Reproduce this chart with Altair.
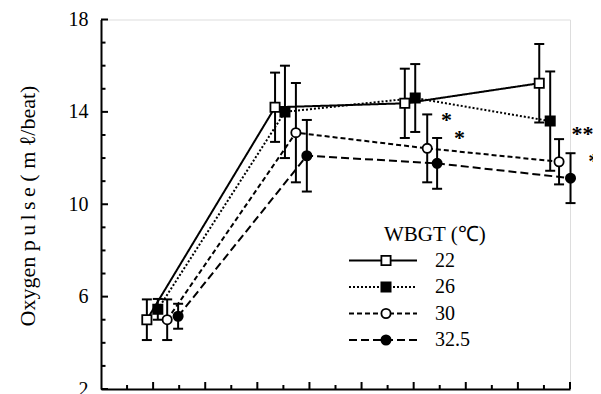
import altair as alt
import pandas as pd

# ---------------- data ----------------
series = ["22", "26", "30", "32.5"]
x_22 = [8.8, 33.4, 58.3, 84.1]
x_26 = [10.9, 35.3, 60.3, 86.2]
x_30 = [12.7, 37.4, 62.6, 87.9]
x_325 = [14.8, 39.5, 64.5, 90.1]

mean_22 = [5.0, 14.2, 14.37, 15.24]
mean_26 = [5.45, 14.0, 14.6, 13.6]
mean_30 = [5.0, 13.1, 12.42, 11.84]
mean_325 = [5.15, 12.1, 11.77, 11.13]

sd_22 = [0.88, 1.5, 1.5, 1.7]
sd_26 = [0.45, 2.0, 1.47, 2.15]
sd_30 = [0.88, 2.15, 1.47, 0.98]
sd_325 = [0.54, 1.55, 1.1, 1.08]

star_x = [66.3, 68.8, 92.4, 95.6]
star_y = [13.87, 13.07, 13.26, 12.1]
star_text = ["*", "*", "**", "**"]

y_labels = [2, 6, 10, 14, 18]
x_major_ticks = [10, 20, 30, 40, 50, 60, 70, 80, 90]
x_minor_ticks = [5, 15, 25, 35, 45, 55, 65, 75, 85]
y_major_ticks = [2, 6, 10, 14, 18]
y_minor_ticks = [3, 4, 5, 7, 8, 9, 11, 12, 13, 15, 16, 17]
legend_title = "WBGT (℃)"
y_title = "Oxygen  p\u2009u\u2009l\u2009s\u2009e ( m ℓ/beat)"

# ---------------- styling ----------------
FONT = "Liberation Serif"
W, H = 469, 369.5
dash_range = [[1, 0], [2, 2], [5, 3], [8, 4]]
shape_range = ["square", "square", "circle", "circle"]
fill_range = ["white", "black", "white", "black"]

xs = [x_22, x_26, x_30, x_325]
ms = [mean_22, mean_26, mean_30, mean_325]
ss = [sd_22, sd_26, sd_30, sd_325]
rows = []
for s, xv, mv, sv in zip(series, xs, ms, ss):
    for i, (x, m, sd) in enumerate(zip(xv, mv, sv)):
        rows.append({"series": s, "stage": i, "x": x, "mean": m,
                     "lo": m - sd, "hi": m + sd})
df = pd.DataFrame(rows)

stars = pd.DataFrame({"x": star_x, "y": star_y, "t": star_text})

xscale = alt.Scale(domain=[0, 90], nice=False, zero=False)
yscale = alt.Scale(domain=[2, 18], nice=False, zero=False)

dash_enc = alt.StrokeDash("series:N", scale=alt.Scale(domain=series, range=dash_range), legend=None)
shape_enc = alt.Shape("series:N", scale=alt.Scale(domain=series, range=shape_range), legend=None)
fill_enc = alt.Fill("series:N", scale=alt.Scale(domain=series, range=fill_range), legend=None)

base = alt.Chart(df)

x_axis = alt.Axis(orient="bottom", labels=False, ticks=False, title=None,
                  domainColor="black", domainWidth=2, grid=False)
y_axis = alt.Axis(orient="left", values=y_labels, ticks=False, tickSize=0,
                  domain=True, domainColor="black", domainWidth=2,
                  labelFont=FONT, labelFontSize=20, labelColor="black", labelPadding=13,
                  title=y_title, titleFont=FONT, titleFontSize=22, titleFontWeight="normal",
                  titleColor="black", titleAngle=270, titleAlign="center",
                  titleBaseline="middle", titleX=-74, titleY=186, grid=False)

lines = base.mark_line(color="black", strokeWidth=2).encode(
    x=alt.X("x:Q", scale=xscale, axis=x_axis),
    y=alt.Y("mean:Q", scale=yscale, axis=y_axis),
    strokeDash=dash_enc,
    detail="series:N",
)

# inward tick marks
def xticks(vals, length):
    return alt.Chart(pd.DataFrame({"v": vals})).mark_rule(color="black", strokeWidth=2).encode(
        x=alt.X("v:Q", scale=xscale, axis=None),
        y=alt.value(H), y2=alt.value(H - length))

def yticks(vals, length):
    return alt.Chart(pd.DataFrame({"v": vals})).mark_rule(color="black", strokeWidth=2).encode(
        y=alt.Y("v:Q", scale=yscale, axis=None),
        x=alt.value(0), x2=alt.value(length))

tick_layers = [xticks(x_major_ticks, 7), xticks(x_minor_ticks, 4),
               yticks(y_major_ticks, 7), yticks(y_minor_ticks, 4.5)]

err = base.mark_rule(color="black", strokeWidth=2).encode(
    x=alt.X("x:Q", scale=xscale, axis=None),
    y=alt.Y("lo:Q", scale=yscale, axis=None),
    y2="hi:Q",
)
cap_lo = base.mark_tick(color="black", orient="horizontal", size=10, thickness=2, opacity=1).encode(
    x=alt.X("x:Q", scale=xscale, axis=None),
    y=alt.Y("lo:Q", scale=yscale, axis=None),
)
cap_hi = base.mark_tick(color="black", orient="horizontal", size=10, thickness=2, opacity=1).encode(
    x=alt.X("x:Q", scale=xscale, axis=None),
    y=alt.Y("hi:Q", scale=yscale, axis=None),
)

points = base.mark_point(filled=True, stroke="black", strokeWidth=1.8, size=85, opacity=1).encode(
    x=alt.X("x:Q", scale=xscale, axis=None),
    y=alt.Y("mean:Q", scale=yscale, axis=None),
    shape=shape_enc,
    fill=fill_enc,
)

star_layer = alt.Chart(stars).mark_text(font=FONT, fontSize=22, fontWeight="bold", color="black",
                                        align="center", baseline="middle", dy=5).encode(
    x=alt.X("x:Q", scale=xscale, axis=None),
    y=alt.Y("y:Q", scale=yscale, axis=None),
    text="t:N",
)

# ---------------- legend (pixel positions inside the plot) ----------------
leg_x0, leg_x1, leg_xm, leg_xt = 248, 316, 285, 334
leg_top, leg_step = 241, 26.5
leg_rows = []
for i, s in enumerate(series):
    yy = leg_top + i * leg_step
    leg_rows.append({"series": s, "lx": leg_x0, "ly": yy})
    leg_rows.append({"series": s, "lx": leg_x1, "ly": yy})
leg_df = pd.DataFrame(leg_rows)
leg_pts = pd.DataFrame({"series": series,
                        "lx": [leg_xm] * len(series),
                        "tx": [leg_xt] * len(series),
                        "ly": [leg_top + i * leg_step for i in range(len(series))]})

leg_lines = alt.Chart(leg_df).mark_line(color="black", strokeWidth=2).encode(
    x=alt.X("lx:Q", scale=None, axis=None),
    y=alt.Y("ly:Q", scale=None, axis=None),
    strokeDash=dash_enc,
    detail="series:N",
)
leg_marks = alt.Chart(leg_pts).mark_point(filled=True, stroke="black", strokeWidth=1.8, size=85, opacity=1).encode(
    x=alt.X("lx:Q", scale=None, axis=None),
    y=alt.Y("ly:Q", scale=None, axis=None),
    shape=shape_enc,
    fill=fill_enc,
)
leg_text = alt.Chart(leg_pts).mark_text(font=FONT, fontSize=20, color="black",
                                        align="left", baseline="middle").encode(
    x=alt.X("tx:Q", scale=None, axis=None),
    y=alt.Y("ly:Q", scale=None, axis=None),
    text="series:N",
)
leg_title = alt.Chart(pd.DataFrame({"t": [legend_title]})).mark_text(
    font=FONT, fontSize=21, color="black", align="left", baseline="middle").encode(
    x=alt.value(283), y=alt.value(215), text="t:N")

chart = alt.layer(
    lines, *tick_layers, err, cap_lo, cap_hi, points, star_layer,
    leg_lines, leg_marks, leg_text, leg_title,
).resolve_axis(x="independent", y="independent").properties(
    width=W, height=H,
    autosize=alt.AutoSizeParams(type="none"),
    padding={"left": 93, "top": 11.5, "right": 23, "bottom": 5},
).configure_view(stroke=None).configure(background="white")

chart.save("out.html", embed_options={"renderer": "svg", "actions": False})
